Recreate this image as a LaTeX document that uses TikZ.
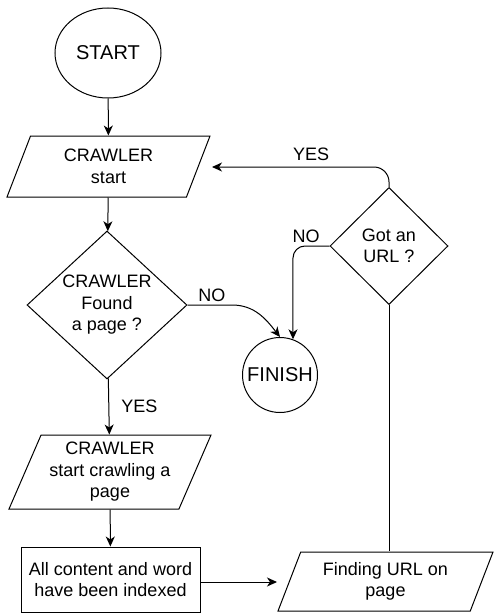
\documentclass[tikz,border=0pt]{standalone}
\usepackage{fontspec}
\setmainfont{Liberation Sans}
\usetikzlibrary{shapes.geometric,arrows.meta}
\begin{document}
\begin{tikzpicture}[x=1pt,y=-1pt,
  every node/.style={font=\fontsize{18}{21.5}\selectfont, align=center, inner sep=0pt},
  ln/.style={draw=black, line width=1pt},
  arr/.style={ln, -{Stealth[length=10pt,width=9pt,inset=3pt]}},
  para/.style={ln, shape=trapezium, trapezium stretches body, inner sep=0pt},
  dia/.style={ln, shape=diamond, inner sep=0pt},
  term/.style={font=\fontsize{20}{24}\selectfont},
  lbl/.style={font=\fontsize{18}{21.5}\selectfont}
]
\useasboundingbox (0,0) rectangle (494,613);

\node[ln, ellipse, term, minimum width=106pt, minimum height=90pt] (start) at (108,53) {START};
\node[para, trapezium left angle=55.5, trapezium right angle=124.5, minimum width=203pt, minimum height=61pt] (crawl1) at (108.5,166.5) {CRAWLER\\start};
\node[dia, shape aspect=1.08, minimum width=160pt, minimum height=148pt] (d1) at (107,305) {CRAWLER\\Found\\a page ?};
\node[para, trapezium left angle=61.6, trapezium right angle=118.4, minimum width=202pt, minimum height=74pt] (crawl2) at (110,472) {CRAWLER\\start crawling a\\page};
\node[ln, rectangle, minimum width=179pt, minimum height=65pt] (index) at (110.5,579.5) {All content and word\\have been indexed};
\node[para, trapezium left angle=59.3, trapezium right angle=120.7, minimum width=215pt, minimum height=59pt] (find) at (385.5,581.5) {Finding URL on\\page};
\node[dia, minimum width=118pt, minimum height=117pt] (d2) at (389,246) {Got an\\URL ?};
\node[ln, circle, term, minimum size=75pt] (finish) at (280,375) {FINISH};

\coordinate (yesend) at (212,167);
\coordinate (idxend) at (277,582);

\draw[arr] (start) -- (crawl1);
\draw[arr] (crawl1) -- (d1);
\draw[arr] (d1) -- node[lbl, right, xshift=12pt] {YES} (crawl2);
\draw[arr] (crawl2) -- (index);
\draw[arr] (index.east |- idxend) -- (idxend);
\draw[ln] (d2.south) -- (d2.south |- find.north);
\draw[arr, rounded corners=15pt] (d2.north) |- node[lbl, pos=0.72, above=6pt] {YES} (yesend);
\draw[arr, rounded corners=12pt] (d2.west) -| node[lbl, pos=0.32, above=3pt] {NO} (finish.70);
\draw[arr] (d1.east) -- node[lbl, above=3pt, pos=0.55] {NO} (232,305) to[out=0,in=128] (finish.north);
\end{tikzpicture}
\end{document}
